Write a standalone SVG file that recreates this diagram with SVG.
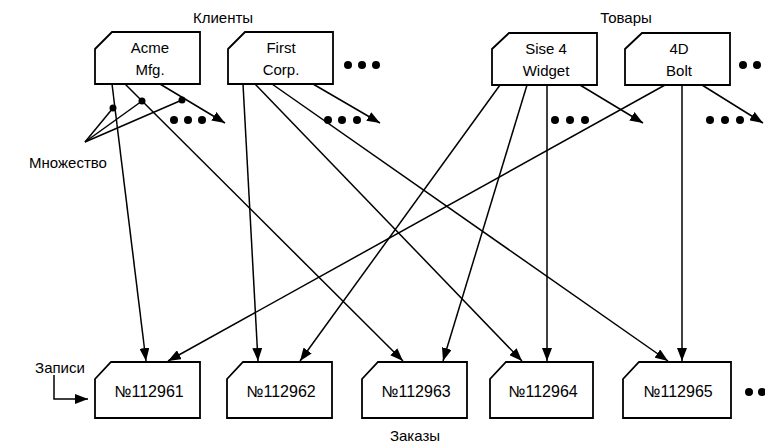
<svg xmlns="http://www.w3.org/2000/svg" width="765" height="443" viewBox="0 0 765 443">
<defs>
<marker id="ah" markerUnits="userSpaceOnUse" markerWidth="14" markerHeight="10" refX="13" refY="5" orient="auto">
<path d="M0,0 L13,5 L0,10 Z" fill="#000"/>
</marker>
</defs>
<style>
.box{fill:#fff;stroke:#000;stroke-width:1.8}
.t{font-family:"Liberation Sans",Arial,sans-serif;font-size:15px;fill:#000;text-anchor:middle}
.n{font-family:"Liberation Sans",Arial,sans-serif;font-size:16px;fill:#000;text-anchor:middle}
.c line,.c path{stroke:#000;stroke-width:1.5;fill:none}
.a{marker-end:url(#ah)}
.d{fill:#000}
</style>
<rect width="765" height="443" fill="#fff"/>

<text class="t" x="223" y="23">Клиенты</text>
<text class="t" x="626" y="23">Товары</text>
<text class="t" x="68" y="168">Множество</text>
<text class="t" x="60" y="373">Записи</text>
<text class="t" x="415" y="441">Заказы</text>

<g id="acme"><path class="box" d="M95,49 L112,32 L200,32 L200,84 L95,84 Z"/><text class="t" x="150" y="53">Acme</text><text class="t" x="150" y="75">Mfg.</text></g>
<g id="first"><path class="box" d="M228,49 L245,32 L333,32 L333,84 L228,84 Z"/><text class="t" x="281" y="53">First</text><text class="t" x="281" y="75">Corp.</text></g>
<g id="sise"><path class="box" d="M492,49 L509,33 L597,33 L597,85 L492,85 Z"/><text class="t" x="546" y="54">Sise 4</text><text class="t" x="546" y="76">Widget</text></g>
<g id="bolt"><path class="box" d="M625,49 L642,33 L730,33 L730,85 L625,85 Z"/><text class="t" x="679" y="54">4D</text><text class="t" x="679" y="76">Bolt</text></g>

<g id="o1"><path class="box" d="M95,379 L111,362 L200,362 L200,418 L95,418 Z"/><text class="n" x="149" y="397">№112961</text></g>
<g id="o2"><path class="box" d="M227,379 L243,362 L332,362 L332,418 L227,418 Z"/><text class="n" x="281" y="397">№112962</text></g>
<g id="o3"><path class="box" d="M362,379 L378,362 L467,362 L467,418 L362,418 Z"/><text class="n" x="416" y="397">№112963</text></g>
<g id="o4"><path class="box" d="M490,379 L506,362 L593,362 L593,418 L490,418 Z"/><text class="n" x="543" y="397">№112964</text></g>
<g id="o5"><path class="box" d="M623,379 L639,362 L731,362 L731,418 L623,418 Z"/><text class="n" x="678" y="397">№112965</text></g>

<g id="connectors" class="c">
<line class="a" x1="112" y1="84" x2="146" y2="361"/>
<line class="a" x1="125" y1="84" x2="403" y2="361"/>
<line class="a" x1="160" y1="84" x2="225" y2="123"/>
<line class="a" x1="243" y1="84" x2="258" y2="361"/>
<line class="a" x1="255" y1="84" x2="522" y2="361"/>
<line class="a" x1="272" y1="84" x2="668" y2="361"/>
<line class="a" x1="313" y1="84" x2="380" y2="123"/>
<line class="a" x1="500" y1="85" x2="300" y2="361"/>
<line class="a" x1="527" y1="85" x2="443" y2="361"/>
<line class="a" x1="547" y1="85" x2="547" y2="361"/>
<line class="a" x1="580" y1="85" x2="643" y2="123"/>
<line class="a" x1="665" y1="85" x2="168" y2="361"/>
<line class="a" x1="682" y1="85" x2="682" y2="361"/>
<line class="a" x1="702" y1="85" x2="763" y2="123"/>
<line x1="85" y1="142" x2="113" y2="108"/>
<line x1="85" y1="142" x2="142" y2="101"/>
<line x1="85" y1="142" x2="182" y2="100"/>
<path class="a" d="M54,375 L54,399 L88,399"/>
</g>

<g id="dots" class="d">
<circle cx="113" cy="108" r="3.5"/><circle cx="142" cy="101" r="3.5"/><circle cx="182" cy="100" r="3.5"/>
<circle cx="174" cy="120" r="4"/><circle cx="188" cy="120" r="4"/><circle cx="202" cy="120" r="4"/>
<circle cx="328" cy="120" r="4"/><circle cx="342" cy="120" r="4"/><circle cx="357" cy="120" r="4"/>
<circle cx="555" cy="120" r="4"/><circle cx="570" cy="120" r="4"/><circle cx="585" cy="120" r="4"/>
<circle cx="710" cy="120" r="4"/><circle cx="725" cy="120" r="4"/><circle cx="740" cy="120" r="4"/>
<circle cx="348" cy="65" r="4"/><circle cx="362" cy="65" r="4"/><circle cx="376" cy="65" r="4"/>
<circle cx="743" cy="65" r="4"/><circle cx="757" cy="65" r="4"/>
<circle cx="749" cy="392" r="4"/><circle cx="762" cy="392" r="4"/>
</g>
</svg>
